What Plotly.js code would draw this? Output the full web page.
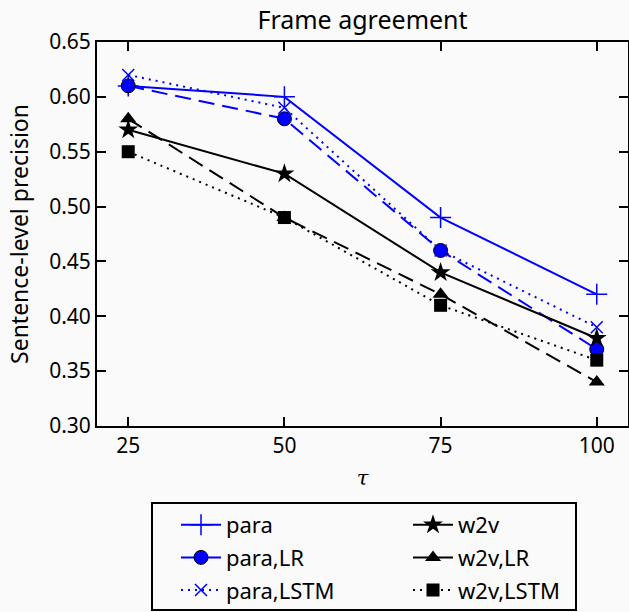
<!DOCTYPE html>
<html><head><meta charset="utf-8">
<script src="https://cdn.plot.ly/plotly-3.0.1.min.js"></script>
<style>body{margin:0;background:#fff}#c{width:629px;height:612px}</style>
</head><body><div id="c"></div>
<script>
const tau = [25, 50, 75, 100];
const para = [0.61, 0.60, 0.49, 0.42];
const paraLR = [0.61, 0.58, 0.46, 0.37];
const paraLSTM = [0.62, 0.59, 0.46, 0.39];
const w2v = [0.57, 0.53, 0.44, 0.38];
const w2vLR = [0.58, 0.49, 0.42, 0.34];
const w2vLSTM = [0.55, 0.49, 0.41, 0.36];

const blue = '#0000ff', black = '#000000';
function tr(name, y, color, dash, symbol, size, fill, lineC, lw, legend, grp) {
  return {x: tau, y: y, name: name, type: 'scatter', mode: 'lines+markers',
    line: {color: color, width: 2, dash: dash},
    marker: {symbol: symbol, size: size, color: fill, line: {color: lineC, width: lw}},
    legend: legend, legendgroup: grp};
}
const data = [
  tr('para', para, blue, 'solid', 'cross-thin', 15, blue, blue, 1.5, 'legend', 'a'),
  tr('para,LR', paraLR, blue, '16px,8px', 'circle', 14, blue, black, 1, 'legend', 'b'),
  tr('para,LSTM', paraLSTM, blue, '2px,5px', 'x-thin', 12, blue, blue, 1.5, 'legend', 'c'),
  tr('w2v', w2v, black, 'solid', 'star', 15, black, black, 0, 'legend2', 'd'),
  tr('w2v,LR', w2vLR, black, '16px,8px', 'triangle-up', 14, black, black, 0, 'legend2', 'e'),
  tr('w2v,LSTM', w2vLSTM, black, '2px,5px', 'square', 13, black, black, 0, 'legend2', 'f')
];
const fnt = {family: 'Noto Sans, Open Sans, sans-serif', color: '#000'};
const L = 97, R = 628, T = 42, B = 426;
const pw = R - L, ph = B - T;
const px = v => (v - L) / pw, py = v => (B - v) / ph;
const legCommon = {orientation: 'v', bgcolor: 'rgba(0,0,0,0)', borderwidth: 0,
  font: Object.assign({}, fnt, {size: 22}), tracegroupgap: 1, yanchor: 'top', xanchor: 'left', itemwidth: 40};
const layout = {
  width: 629, height: 612,
  margin: {l: L, r: 629 - R, t: T, b: 612 - B, autoexpand: false},
  paper_bgcolor: '#fafafa', plot_bgcolor: '#fafafa',
  font: Object.assign({}, fnt, {size: 20}),
  showlegend: true,
  title: {text: 'Frame agreement', font: Object.assign({}, fnt, {size: 25}), x: 0.5, xref: 'paper', xanchor: 'center', y: 1 - 20/612, yanchor: 'middle'},
  xaxis: {range: [20, 105], tickvals: tau, ticktext: ['25','50','75','100'], ticks: 'inside', ticklen: 9, tickwidth: 1.5, tickcolor: '#000',
    showline: true, linewidth: 2, linecolor: '#000', mirror: 'ticks', showgrid: false, zeroline: false,
    tickfont: Object.assign({}, fnt, {size: 21}),
    title: {text: 'τ', font: {family: 'DejaVu Serif, serif', size: 21, color: '#000', style: 'italic'}, standoff: 12}},
  yaxis: {range: [0.30, 0.65], dtick: 0.05, tickformat: '.2f', ticks: 'inside', ticklen: 9, tickwidth: 1.5, tickcolor: '#000',
    showline: true, linewidth: 2, linecolor: '#000', mirror: 'ticks', showgrid: false, zeroline: false,
    tickfont: Object.assign({}, fnt, {size: 21}),
    title: {text: 'Sentence-level precision', font: Object.assign({}, fnt, {size: 23}), standoff: 14}},
  legend: Object.assign({}, legCommon, {x: px(176), y: py(504)}),
  legend2: Object.assign({}, legCommon, {x: px(408), y: py(504)}),
  shapes: [{type: 'rect', xref: 'paper', yref: 'paper', x0: px(152), x1: px(576), y0: py(610), y1: py(503),
    line: {color: '#000', width: 2}, fillcolor: 'rgba(0,0,0,0)'}]
};
Plotly.newPlot('c', data, layout, {displayModeBar: false});
</script></body></html>
